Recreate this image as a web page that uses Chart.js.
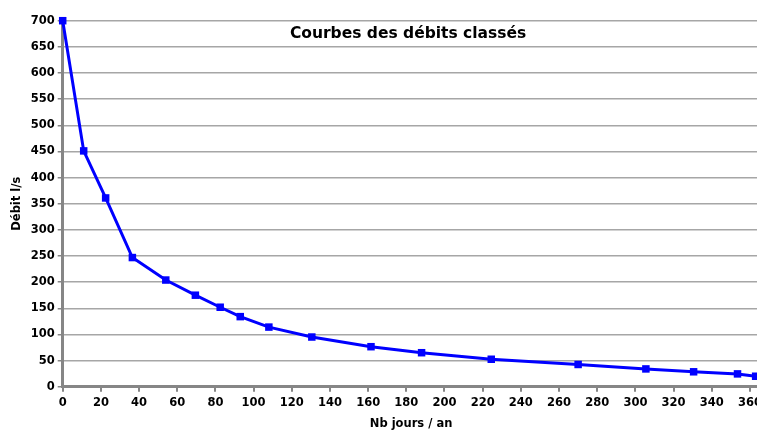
<!DOCTYPE html>
<html>
<head>
<meta charset="utf-8">
<script src="https://cdn.jsdelivr.net/npm/chart.js@4"></script>
<style>
html,body{margin:0;padding:0;background:#fff;overflow:hidden;width:757px;height:430px;}
#wrap{position:relative;width:766px;height:430px;}
</style>
</head>
<body>
<div id="wrap"><canvas id="c" width="766" height="430"></canvas></div>
<script>
const chartTitle = "Courbes des débits classés";
const xAxisTitle = "Nb jours / an";
const yAxisTitle = "Débit l/s";
const days = [0, 11, 22.5, 36.5, 54, 69.5, 82.5, 93, 108, 130.5, 161.5, 188, 224.5, 270, 305.5, 330.5, 353.5, 363];
const flows = [700, 451, 361, 247, 204, 175, 152, 134, 114, 95, 76.5, 65, 52.5, 42.5, 34, 28.5, 24.5, 20];
const xMin = 0, xMax = 365, xStep = 20;
const yMin = 0, yMax = 700, yStep = 50;

const points = days.map((d, i) => ({x: d, y: flows[i]}));
const FONT = "'DejaVu Sans'";

const titlePlugin = {
  id: 'innerTitle',
  afterDraw(chart) {
    const {ctx, chartArea} = chart;
    ctx.save();
    ctx.font = "bold 15.5px " + FONT;
    ctx.fillStyle = "#000";
    ctx.textAlign = "center";
    ctx.textBaseline = "middle";
    ctx.fillText(chartTitle, (chartArea.left + chartArea.right) / 2 - 3, chartArea.top + 13);
    ctx.restore();
  }
};

new Chart(document.getElementById('c'), {
  type: 'line',
  data: {
    datasets: [{
      data: points,
      borderColor: '#0000ff',
      backgroundColor: '#0000ff',
      borderWidth: 3,
      pointStyle: 'rect',
      pointRadius: 5.3,
      pointBorderWidth: 0,
      tension: 0,
      clip: false
    }]
  },
  options: {
    responsive: false,
    animation: false,
    layout: {padding: {top: 20.7, right: 3, left: 0, bottom: 0}},
    plugins: {legend: {display: false}, tooltip: {enabled: false}},
    scales: {
      x: {
        type: 'linear',
        min: xMin, max: xMax,
        afterFit(s) { s.height = 43.3; },
        afterBuildTicks(s) {
          const t = [];
          for (let v = xMin; v <= xMax; v += xStep) t.push({value: v});
          s.ticks = t;
        },
        ticks: {
          stepSize: xStep,
          autoSkip: false,
          maxRotation: 0,
          padding: 4,
          color: '#000',
          font: {family: FONT, weight: 'bold', size: 11.5}
        },
        grid: {
          display: true,
          drawOnChartArea: false,
          drawTicks: true,
          tickLength: 5,
          color: '#868686',
          lineWidth: 2
        },
        border: {display: true, color: '#868686', width: 3},
        title: {
          display: true,
          text: xAxisTitle,
          color: '#000',
          font: {family: FONT, weight: 'bold', size: 11.5},
          padding: {top: 0, bottom: -1}
        }
      },
      y: {
        type: 'linear',
        min: yMin, max: yMax,
        afterFit(s) { s.width = 62.7; },
        ticks: {
          stepSize: yStep,
          padding: 3,
          color: '#000',
          font: {family: FONT, weight: 'bold', size: 11.5}
        },
        grid: {
          display: true,
          drawOnChartArea: true,
          drawTicks: true,
          tickLength: 5,
          color: (ctx) => ctx.tick && ctx.tick.value === 0 ? 'rgba(0,0,0,0)' : '#a6a6a6',
          tickColor: '#868686',
          lineWidth: 1.5
        },
        border: {display: true, color: '#868686', width: 3},
        title: {
          display: true,
          text: yAxisTitle,
          color: '#000',
          font: {family: FONT, weight: 'bold', size: 11.5},
          padding: {top: 10, bottom: 0}
        }
      }
    }
  },
  plugins: [titlePlugin]
});
</script>
</body>
</html>
